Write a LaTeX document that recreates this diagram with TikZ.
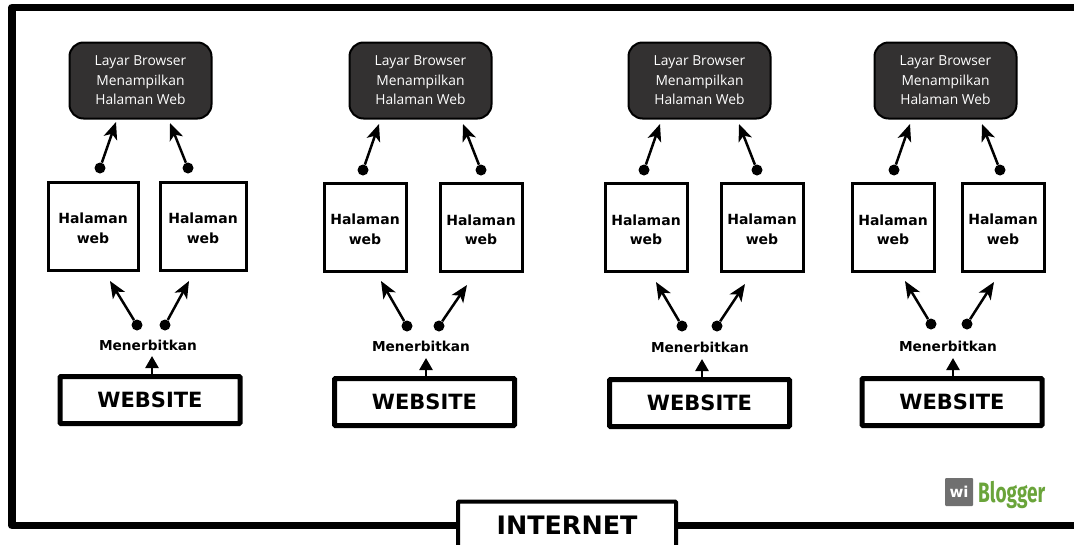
\documentclass[tikz,border=0pt]{standalone}
\usepackage{fontspec}
\setmainfont{DejaVu Sans}
\newfontfamily\browserfont{Open Sans}
\newfontfamily\logofont{Fira Sans}
\usetikzlibrary{arrows.meta}
\definecolor{browsergray}{HTML}{333131}
\definecolor{logogray}{HTML}{707070}
\definecolor{logogreen}{HTML}{6AA43A}
\newcommand{\pagetext}{\rule{0pt}{15pt}Halaman\\web}
\newcommand{\browsertext}{Layar Browser\\Menampilkan\\Halaman Web}
\tikzset{
  browserbox/.style={draw=black, line width=2pt, fill=browsergray, rounded corners=14pt, minimum width=142pt, minimum height=76pt, inner sep=0pt, text=white, align=center, font=\browserfont\fontsize{13.8}{19.5}\selectfont},
  pagebox/.style={draw=black, line width=3pt, fill=white, minimum width=82pt, minimum height=88pt, inner sep=0pt, align=center, font=\bfseries\fontsize{14}{19.5}\selectfont},
  sitebox/.style={draw=black, line width=5pt, fill=white, rounded corners=1pt, minimum width=180pt, minimum height=47pt, inner sep=0pt, font=\bfseries\fontsize{21}{24}\selectfont},
  pubtext/.style={inner sep=1pt, font=\bfseries\fontsize{13.7}{16}\selectfont},
  pin/.style={circle, fill=black, minimum size=11pt, inner sep=0pt},
  pointer/.style={line width=2.5pt, -{Stealth[length=17pt, width=14pt, inset=4.5pt]}},
  pushup/.style={line width=2.5pt, -{Stealth[length=12pt, width=13pt, inset=0pt]}}
}
\begin{document}
\begin{tikzpicture}[x=1pt, y=-1pt]
        \useasboundingbox (0,0) rectangle (1074,544);

        % Draw the outer frame
        \draw[line width=7.5pt, line join=round] (1074,7.5) -- (12,7.5) -- (12,525.5) -- (1074,525.5);
        \node[draw=black, line width=4pt, fill=white, rounded corners=1pt, minimum width=218pt, minimum height=47pt, inner sep=0pt, font=\bfseries\fontsize{25.4}{28}\selectfont] (internet) at (567,525) {INTERNET};

        % First column
        \node[browserbox] (browserA) at (140.5,80.5) {\browsertext};
        \node[pagebox, minimum width=90pt] (pageAa) at (93,226) {\pagetext};
        \node[pagebox, minimum width=86pt] (pageAb) at (203,226) {\pagetext};
        \node[pin] (pinAa) at (100,168) {};
        \node[pin] (pinAb) at (188,168) {};
        \node[pin] (pinAc) at (137,325) {};
        \node[pin] (pinAd) at (165,325) {};
        \node[pubtext] (pubA) at (148,345) {Menerbitkan};
        \node[sitebox] (siteA) at (150,400) {WEBSITE};
        \coordinate (tipAa) at (116,122);
        \coordinate (tipAb) at (170,123);
        \coordinate (tipAc) at (110,281);
        \coordinate (tipAd) at (189,281);
        \coordinate (tipAe) at (152,356);
        \draw[pointer] (pinAa) -- (tipAa);
        \draw[pointer] (pinAb) -- (tipAb);
        \draw[pointer] (pinAc) -- (tipAc);
        \draw[pointer] (pinAd) -- (tipAd);
        \draw[pushup] (siteA.north -| tipAe) -- (tipAe);

        % Second column
        \node[browserbox] (browserB) at (420.5,80.5) {\browsertext};
        \node[pagebox] (pageBa) at (365,227) {\pagetext};
        \node[pagebox] (pageBb) at (481,227.5) {\pagetext};
        \node[pin] (pinBa) at (363,170) {};
        \node[pin] (pinBb) at (481,170) {};
        \node[pin] (pinBc) at (407,326) {};
        \node[pin] (pinBd) at (439,326) {};
        \node[pubtext] (pubB) at (421,346) {Menerbitkan};
        \node[sitebox] (siteB) at (424.5,402) {WEBSITE};
        \coordinate (tipBa) at (379,124);
        \coordinate (tipBb) at (463,124);
        \coordinate (tipBc) at (381,281);
        \coordinate (tipBd) at (467,285);
        \coordinate (tipBe) at (426,358);
        \draw[pointer] (pinBa) -- (tipBa);
        \draw[pointer] (pinBb) -- (tipBb);
        \draw[pointer] (pinBc) -- (tipBc);
        \draw[pointer] (pinBd) -- (tipBd);
        \draw[pushup] (siteB.north -| tipBe) -- (tipBe);

        % Third column
        \node[browserbox] (browserC) at (699.5,80.5) {\browsertext};
        \node[pagebox] (pageCa) at (646,227.5) {\pagetext};
        \node[pagebox] (pageCb) at (762,227) {\pagetext};
        \node[pin] (pinCa) at (644,170) {};
        \node[pin] (pinCb) at (757,170) {};
        \node[pin] (pinCc) at (682,326) {};
        \node[pin] (pinCd) at (717,326) {};
        \node[pubtext] (pubC) at (700,347) {Menerbitkan};
        \node[sitebox] (siteC) at (699.5,403) {WEBSITE};
        \coordinate (tipCa) at (660,124);
        \coordinate (tipCb) at (739,124);
        \coordinate (tipCc) at (656,282);
        \coordinate (tipCd) at (745,284);
        \coordinate (tipCe) at (702,359);
        \draw[pointer] (pinCa) -- (tipCa);
        \draw[pointer] (pinCb) -- (tipCb);
        \draw[pointer] (pinCc) -- (tipCc);
        \draw[pointer] (pinCd) -- (tipCd);
        \draw[pushup] (siteC.north -| tipCe) -- (tipCe);

        % Fourth column
        \node[browserbox] (browserD) at (945.5,80.5) {\browsertext};
        \node[pagebox] (pageDa) at (893,227.5) {\pagetext};
        \node[pagebox] (pageDb) at (1003,227) {\pagetext};
        \node[pin] (pinDa) at (894,170) {};
        \node[pin] (pinDb) at (1000,170) {};
        \node[pin] (pinDc) at (931,324) {};
        \node[pin] (pinDd) at (967,324) {};
        \node[pubtext] (pubD) at (948,346) {Menerbitkan};
        \node[sitebox] (siteD) at (952,402) {WEBSITE};
        \coordinate (tipDa) at (910,124);
        \coordinate (tipDb) at (982,124);
        \coordinate (tipDc) at (905,281);
        \coordinate (tipDd) at (994,282);
        \coordinate (tipDe) at (953,358);
        \draw[pointer] (pinDa) -- (tipDa);
        \draw[pointer] (pinDb) -- (tipDb);
        \draw[pointer] (pinDc) -- (tipDc);
        \draw[pointer] (pinDd) -- (tipDd);
        \draw[pushup] (siteD.north -| tipDe) -- (tipDe);

        % Logo
        \node[fill=logogray, rounded corners=1pt, minimum width=28pt, minimum height=28pt, inner sep=0pt, text=white, font=\bfseries\fontsize{15}{16}\selectfont] (logomark) at (959,492) {wi};
        \node[anchor=west, inner sep=0pt, text=logogreen] (logoname) at (978,495) {\scalebox{0.68}[1]{\logofont\bfseries\fontsize{28}{29}\selectfont Blogger}};
\end{tikzpicture}
\end{document}
